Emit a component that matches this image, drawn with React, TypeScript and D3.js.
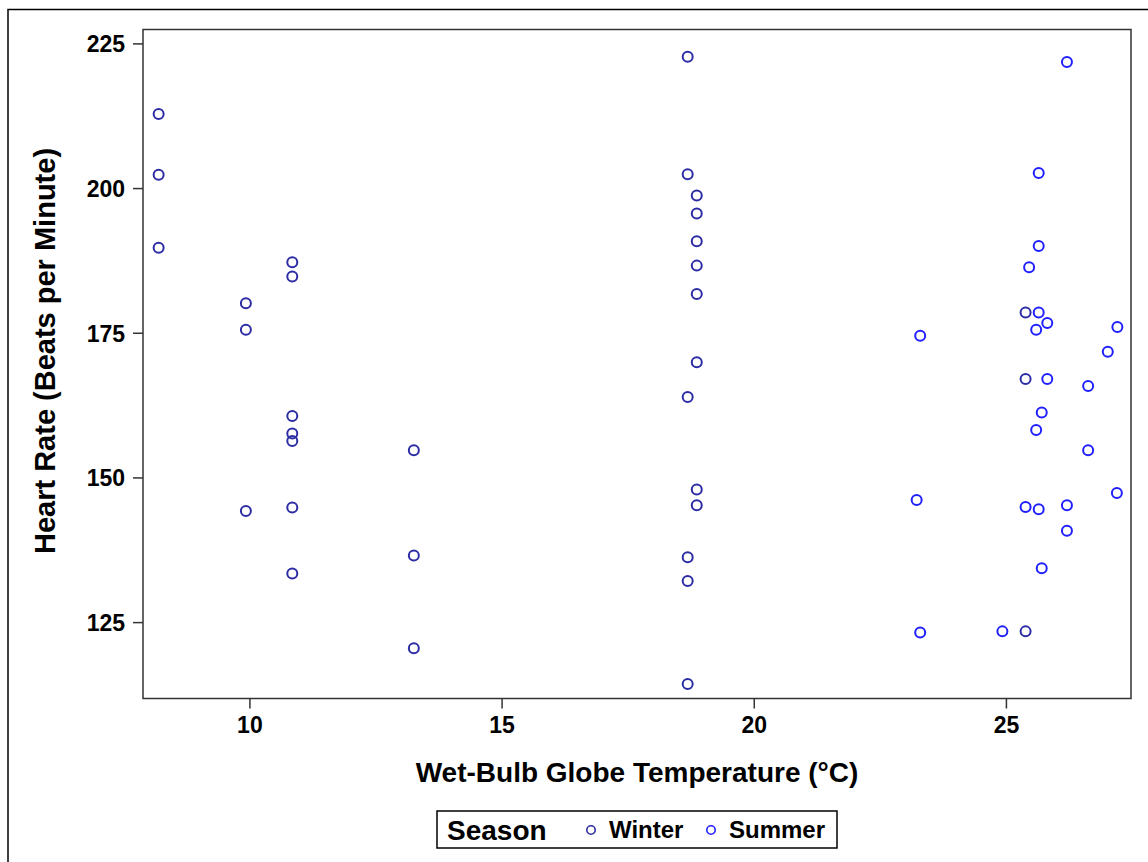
import { useEffect, useRef } from 'react';
import * as d3 from 'd3';

// Winter readings (temperature °C, heart rate bpm)
const winterTemp = [8.2, 8.2, 8.2, 9.93, 9.93, 9.93, 10.85, 10.85, 10.85, 10.85, 10.85, 10.85, 10.85, 13.26, 13.26, 13.26, 18.69, 18.69, 18.87, 18.87, 18.87, 18.87, 18.87, 18.87, 18.69, 18.87, 18.87, 18.69, 18.69, 18.69, 25.39, 25.39, 25.39];
const winterRate = [212.8, 202.3, 189.7, 180.1, 175.5, 144.2, 187.2, 184.7, 160.6, 157.6, 156.3, 144.8, 133.4, 154.7, 136.5, 120.5, 222.7, 202.4, 198.7, 195.6, 190.8, 186.6, 181.7, 169.9, 163.9, 147.9, 145.2, 136.2, 132.1, 114.3, 178.5, 167.0, 123.4];

// Summer readings
const summerTemp = [26.21, 25.65, 25.65, 25.46, 25.65, 25.82, 25.6, 27.21, 23.3, 27.02, 25.82, 26.63, 25.71, 25.6, 26.63, 27.2, 23.23, 25.39, 25.65, 26.21, 26.21, 25.71, 23.3, 24.93];
const summerRate = [221.8, 202.6, 190.0, 186.3, 178.5, 176.7, 175.5, 176.0, 174.5, 171.7, 167.0, 165.8, 161.2, 158.2, 154.7, 147.3, 146.1, 144.9, 144.5, 145.2, 140.8, 134.3, 123.2, 123.4];

const xTicks = [10, 15, 20, 25];
const yTicks = [125, 150, 175, 200, 225];
const seasons = ['Winter', 'Summer'];

const W = 1148;
const H = 862;
const font = '"Liberation Sans", Arial, sans-serif';
const colors: Record<string, string> = { Winter: '#2c2ca4', Summer: '#2020ff' };

export default function App() {
  const ref = useRef<SVGSVGElement | null>(null);

  useEffect(() => {
    const svg = d3.select(ref.current);
    svg.selectAll('*').remove();

    const plot = { left: 143, right: 1131, top: 29.5, bottom: 698.5 };
    const x = d3.scaleLinear().domain([7.89, 27.48]).range([plot.left, plot.right]);
    const y = d3.scaleLinear().domain([111.8, 227.4]).range([plot.bottom, plot.top]);

    // outer frame (runs off the page on right and bottom)
    svg.append('rect')
      .attr('x', 8).attr('y', 9.5).attr('width', 1200).attr('height', 900)
      .attr('fill', 'none').attr('stroke', '#000').attr('stroke-width', 1.5);

    const xAxis = svg.append('g')
      .attr('transform', `translate(0,${plot.bottom})`)
      .call(d3.axisBottom(x).tickValues(xTicks).tickSize(10).tickPadding(7).tickFormat(d3.format('d')));
    const yAxis = svg.append('g')
      .attr('transform', `translate(${plot.left},0)`)
      .call(d3.axisLeft(y).tickValues(yTicks).tickSize(10).tickPadding(8).tickFormat(d3.format('d')));

    [xAxis, yAxis].forEach(a => {
      a.select('.domain').remove();
      a.selectAll('line').attr('stroke', '#333').attr('stroke-width', 1.5);
      a.selectAll('text')
        .attr('fill', '#000')
        .style('font', `bold 23px ${font}`);
    });
    xAxis.selectAll('text').attr('dy', '0.75em');
    yAxis.selectAll('text').attr('dy', '0.36em');

    svg.append('rect')
      .attr('x', plot.left).attr('y', plot.top)
      .attr('width', plot.right - plot.left).attr('height', plot.bottom - plot.top)
      .attr('fill', 'none').attr('stroke', '#333').attr('stroke-width', 1.5);

    const pts = (temps: number[], rates: number[], season: string) =>
      temps.map((t, i) => ({ t, r: rates[i], season }));
    const data = [...pts(summerTemp, summerRate, 'Summer'), ...pts(winterTemp, winterRate, 'Winter')];

    svg.append('g').selectAll('circle').data(data).enter().append('circle')
      .attr('cx', d => x(d.t))
      .attr('cy', d => y(d.r))
      .attr('r', 5)
      .attr('fill', 'none')
      .attr('stroke', d => colors[d.season])
      .attr('stroke-width', 2);

    svg.append('text')
      .attr('x', (plot.left + plot.right) / 2).attr('y', 782)
      .attr('text-anchor', 'middle')
      .style('font', `bold 28px ${font}`)
      .text('Wet-Bulb Globe Temperature (°C)');

    svg.append('text')
      .attr('transform', 'translate(55,351) rotate(-90)')
      .attr('text-anchor', 'middle')
      .style('font', `bold 29px ${font}`)
      .text('Heart Rate (Beats per Minute)');

    // legend
    const lg = svg.append('g');
    lg.append('rect')
      .attr('x', 437).attr('y', 811).attr('width', 400).attr('height', 37)
      .attr('fill', 'none').attr('stroke', '#000').attr('stroke-width', 1.5);
    lg.append('text')
      .attr('x', 447).attr('y', 840)
      .style('font', `bold 28px ${font}`)
      .text('Season');
    const itemX = d3.scaleOrdinal<string, number>().domain(seasons).range([591, 711]);
    seasons.forEach(s => {
      lg.append('circle')
        .attr('cx', itemX(s)).attr('cy', 830).attr('r', 4.2)
        .attr('fill', 'none').attr('stroke', colors[s]).attr('stroke-width', 1.6);
      lg.append('text')
        .attr('x', itemX(s) + 18).attr('y', 838)
        .style('font', `bold 24px ${font}`)
        .text(s);
    });
  }, []);

  return (
    <svg
      ref={ref}
      width={W}
      height={H}
      style={{ position: 'absolute', left: 0, top: 0, background: '#fff' }}
    />
  );
}
